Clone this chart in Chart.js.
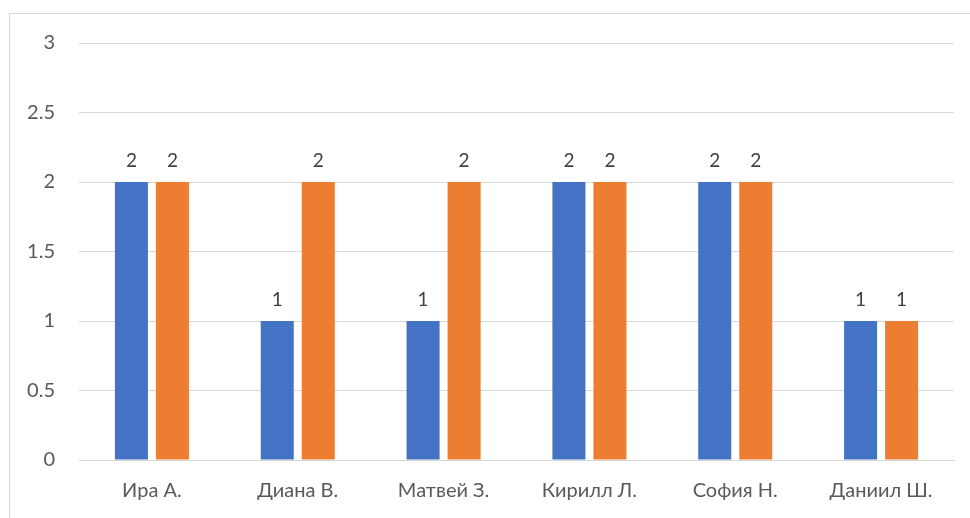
<!DOCTYPE html>
<html>
<head>
<meta charset="utf-8">
<script src="https://cdn.jsdelivr.net/npm/chart.js@4"></script>
<style>
  html, body { margin: 0; padding: 0; background: #fff; overflow: hidden; }
  #frame { position: absolute; left: 9px; top: 13px; width: 1000px; height: 600px;
           border: 1px solid #d9d9d9; box-sizing: border-box; }
  #wrap { position: absolute; left: 0; top: 0; width: 970px; height: 518px; }
</style>
</head>
<body>
<div id="frame"></div>
<div id="wrap"><canvas id="c" width="970" height="518"></canvas></div>
<script>
// Students and the two score series
const categories = ['Ира А.', 'Диана В.', 'Матвей З.', 'Кирилл Л.', 'София Н.', 'Даниил Ш.'];
const seriesBlue = [2, 1, 1, 2, 2, 1];
const seriesOrange = [2, 2, 2, 2, 2, 1];
const yTicks = [0, 0.5, 1, 1.5, 2, 2.5, 3];

const FONT = 'Lato, "Open Sans", "Liberation Sans", sans-serif';
const TEXT = '#595959';
const GRID = '#d9d9d9';

// Value labels above each bar
const valueLabels = {
  id: 'valueLabels',
  afterDatasetsDraw(chart) {
    const ctx = chart.ctx;
    ctx.save();
    ctx.font = '19px ' + FONT;
    ctx.fillStyle = '#404040';
    ctx.textAlign = 'center';
    ctx.textBaseline = 'bottom';
    chart.data.datasets.forEach((ds, i) => {
      chart.getDatasetMeta(i).data.forEach((bar, j) => {
        ctx.fillText(String(ds.data[j]), bar.x, bar.y - 12);
      });
    });
    ctx.restore();
  }
};

new Chart(document.getElementById('c'), {
  type: 'bar',
  data: {
    labels: categories,
    datasets: [
      { data: seriesBlue, backgroundColor: '#4472C4' },
      { data: seriesOrange, backgroundColor: '#ED7D31' }
    ]
  },
  options: {
    responsive: false,
    animation: false,
    devicePixelRatio: 1,
    layout: { padding: { left: 0, right: 16, top: 43, bottom: 0 } },
    datasets: { bar: { categoryPercentage: 0.5625, barPercentage: 0.805 } },
    plugins: { legend: { display: false }, tooltip: { enabled: false } },
    scales: {
      x: {
        grid: { display: false, drawTicks: false },
        border: { color: GRID, width: 1 },
        ticks: { color: TEXT, font: { family: FONT, size: 20 }, padding: 19, maxRotation: 0 },
        afterFit(s) { s.height = 58; }
      },
      y: {
        min: 0, max: 3,
        afterBuildTicks(s) { s.ticks = yTicks.map(v => ({ value: v })); },
        grid: { color: GRID, lineWidth: 1, drawTicks: false },
        border: { display: false },
        ticks: {
          color: TEXT, font: { family: FONT, size: 20 }, padding: 24,
          callback: v => String(v)
        },
        afterFit(s) { s.width = 79; }
      }
    }
  },
  plugins: [valueLabels]
});
</script>
</body>
</html>
